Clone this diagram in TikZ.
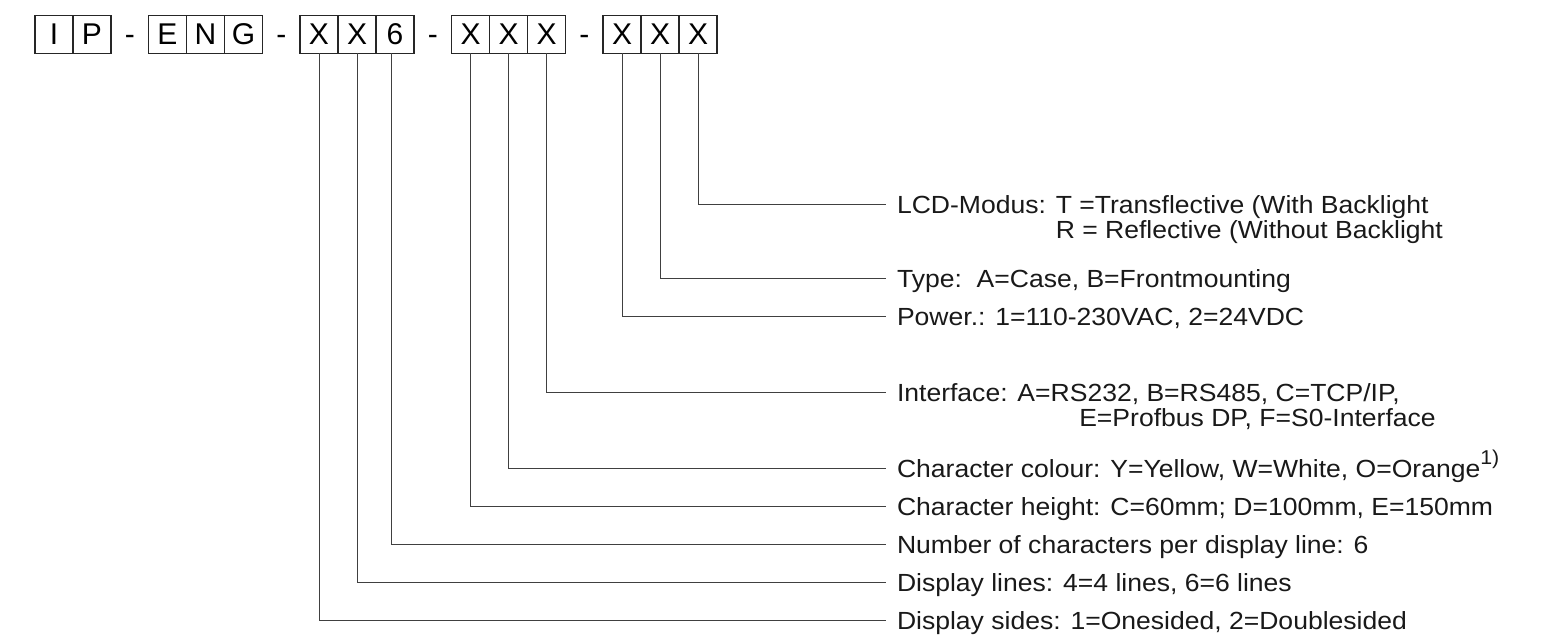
\documentclass[tikz,border=0pt]{standalone}
\usepackage{fontspec}
\setmainfont{Liberation Sans}
\newfontfamily\labfont[FakeStretch=1.07]{Liberation Sans}
\usetikzlibrary{positioning}

\tikzset{
  digit/.style={draw=black!85, line width=0.6pt, minimum width=19pt, minimum height=19pt,
    inner sep=0pt, outer sep=0pt, text height=10.7pt, text depth=0pt,
    font=\fontsize{15}{15}\selectfont},
  dashsep/.style={digit, draw=none, minimum width=18.75pt},
  lab/.style={anchor=west, inner xsep=5.5pt, inner ysep=0pt, outer sep=0pt, text=black!90,
    text height=8.9pt, text depth=0pt, font=\labfont\fontsize{12.4}{13}\selectfont},
  lab2/.style={lab, anchor=base west},
  leader/.style={draw=black!75, line width=0.5pt}
}
\newcommand{\fnmark}[1]{\raisebox{0.5em}{\fontsize{10}{10}\selectfont #1}}

\begin{document}
\begin{tikzpicture}[x=0.5pt, y=-0.5pt]
  \useasboundingbox (0,0) rectangle (1542,635);
  % type code boxes
  \node[digit] (bI) at (54,34.3) {I};
  \node[digit, right=0pt of bI] (bP) {P};
  \node[dashsep, right=0pt of bP] (d1) {-};
  \node[digit, right=0pt of d1] (bE) {E};
  \node[digit, right=0pt of bE] (bN) {N};
  \node[digit, right=0pt of bN] (bG) {G};
  \node[dashsep, right=0pt of bG] (d2) {-};
  \node[digit, right=0pt of d2] (bSides) {X};
  \node[digit, right=0pt of bSides] (bLines) {X};
  \node[digit, right=0pt of bLines] (bCount) {6};
  \node[dashsep, right=0pt of bCount] (d3) {-};
  \node[digit, right=0pt of d3] (bHeight) {X};
  \node[digit, right=0pt of bHeight] (bColour) {X};
  \node[digit, right=0pt of bColour] (bIface) {X};
  \node[dashsep, right=0pt of bIface] (d4) {-};
  \node[digit, right=0pt of d4] (bPower) {X};
  \node[digit, right=0pt of bPower] (bType) {X};
  \node[digit, right=0pt of bType] (bLcd) {X};
  % explanations
  \node[lab] (lLcd) at (886,204.3) {LCD-Modus: T =Transflective (With Backlight};
  \node[lab2] (lLcdB) at ([yshift=-12.75pt]lLcd.base west) {\hphantom{LCD-Modus: }R = Reflective (Without Backlight};
  \node[lab] (lType) at (886,278.3) {Type:\ \ A=Case, B=Frontmounting};
  \node[lab] (lPower) at (886,316.3) {Power.: 1=110-230VAC, 2=24VDC};
  \node[lab] (lIface) at (886,392.3) {Interface: A=RS232, B=RS485, C=TCP/IP,};
  \node[lab2] (lIfaceB) at ([yshift=-12.75pt]lIface.base west) {\hspace{7.35em}E=Profbus DP, F=S0-Interface};
  \node[lab] (lColour) at (886,468.3) {Character colour: Y=Yellow, W=White, O=Orange\fnmark{1)}};
  \node[lab] (lHeight) at (886,506.3) {Character height: C=60mm; D=100mm, E=150mm};
  \node[lab] (lCount) at (886,544.3) {Number of characters per display line: 6};
  \node[lab] (lLines) at (886,582.3) {Display lines: 4=4 lines, 6=6 lines};
  \node[lab] (lSides) at (886,620.3) {Display sides: 1=Onesided, 2=Doublesided};
  % leader lines
  \foreach \b/\l/\s in {bSides/lSides/0, bLines/lLines/0, bCount/lCount/-2, bHeight/lHeight/0,
                        bColour/lColour/0, bIface/lIface/0, bPower/lPower/0, bType/lType/0, bLcd/lLcd/0}
    \draw[leader] ([xshift=\s pt]\b.south) |- (\l.west);
\end{tikzpicture}
\end{document}
